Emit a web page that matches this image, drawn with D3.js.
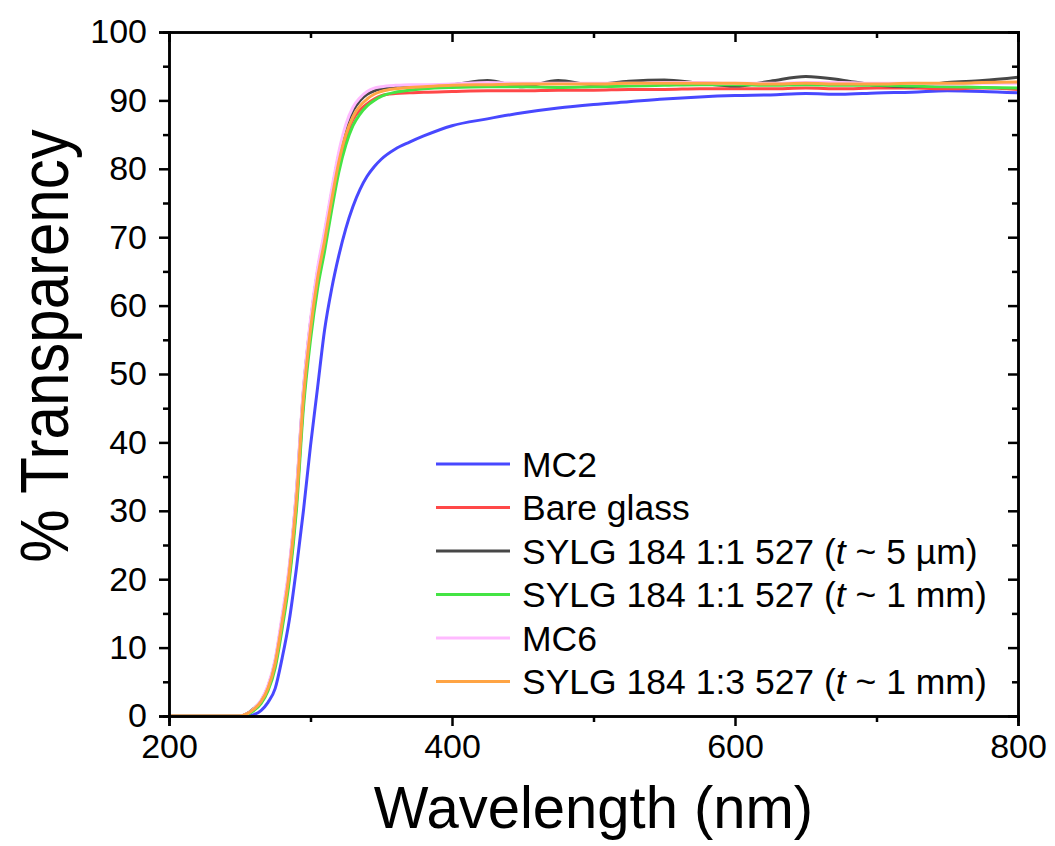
<!DOCTYPE html>
<html>
<head>
<meta charset="utf-8">
<script src="https://cdn.jsdelivr.net/npm/d3@7"></script>
<style>
  body { margin: 0; background: #fff; }
  text { font-family: "Liberation Sans", Arial, sans-serif; fill: #000; }
</style>
</head>
<body>
<script>
// wavelength grid (nm)
var wavelengths = [200, 230, 250, 255, 260, 265, 270, 275, 280, 285, 290, 295, 300, 305, 310, 315, 320, 325, 330, 335, 340, 345, 350, 360, 370, 380, 400, 425, 450, 475, 500, 525, 550, 575, 600, 625, 650, 675, 700, 725, 750, 775, 800];

var mc2 = [0, 0, 0, 0, 0.2, 0.8, 2.0, 4.0, 8.5, 14, 21.5, 30, 39.5, 48, 56.5, 62.5, 67.3, 71.3, 74.5, 77, 78.9, 80.3, 81.4, 82.9, 83.9, 84.8, 86.3, 87.3, 88.2, 88.9, 89.4, 89.8, 90.2, 90.5, 90.7, 90.8, 91.0, 90.9, 91.1, 91.2, 91.4, 91.3, 91.1];
var bareGlass = [0, 0, 0, 0.3, 1.0, 2.0, 4.0, 7.5, 13.5, 20.5, 31, 46, 56, 63.5, 69, 75, 80.5, 84.5, 87.2, 88.6, 89.5, 90.2, 90.7, 91.0, 91.1, 91.2, 91.3, 91.4, 91.4, 91.5, 91.5, 91.6, 91.6, 91.7, 91.7, 91.7, 91.8, 91.7, 91.8, 91.8, 91.7, 91.8, 91.6];
var sylg5um = [0, 0, 0, 0.3, 1.1, 2.2, 4.3, 8.0, 14.3, 21.5, 32.5, 47.5, 57.5, 65, 70.5, 76.5, 82, 86, 88.5, 90.0, 90.9, 91.4, 91.7, 91.9, 92.0, 92.1, 92.3, 92.9, 92.0, 92.9, 92.3, 92.8, 93.0, 92.5, 92.1, 92.8, 93.5, 93.0, 92.2, 92.0, 92.6, 92.9, 93.4];
var sylg11mm = [0, 0, 0, 0.2, 0.8, 1.8, 3.7, 7.0, 12.8, 19.8, 30, 45, 55, 62.5, 68, 74, 79.5, 83.5, 86.3, 88.0, 89.2, 90.0, 90.6, 91.2, 91.5, 91.7, 91.9, 92.0, 92.0, 91.9, 92.0, 92.1, 92.2, 92.3, 92.3, 92.2, 92.3, 92.2, 92.2, 92.1, 92.0, 91.9, 91.8];
var mc6 = [0, 0, 0, 0.3, 1.1, 2.3, 4.5, 8.3, 14.8, 22, 33, 48, 58, 65.5, 71, 77, 82.5, 86.5, 89, 90.4, 91.3, 91.8, 92.0, 92.2, 92.3, 92.3, 92.4, 92.6, 92.5, 92.5, 92.5, 92.5, 92.6, 92.6, 92.5, 92.5, 92.6, 92.6, 92.5, 92.5, 92.4, 92.5, 92.5];
var sylg13mm = [0, 0, 0, 0.3, 1.0, 2.1, 4.1, 7.7, 13.8, 21, 31.5, 46.5, 56.5, 64, 69.5, 75.5, 81, 85, 87.6, 89.2, 90.2, 90.9, 91.3, 91.7, 91.9, 92.0, 92.2, 92.3, 92.4, 92.4, 92.4, 92.5, 92.5, 92.5, 92.5, 92.4, 92.5, 92.4, 92.4, 92.5, 92.5, 92.6, 92.7];

var seriesNames = ["MC2", "Bare glass", "SYLG 184 1:1 527 (t ~ 5 µm)", "SYLG 184 1:1 527 (t ~ 1 mm)", "MC6", "SYLG 184 1:3 527 (t ~ 1 mm)"];
var seriesColors = ["#4848ff", "#ff4848", "#474747", "#44e444", "#ffbaff", "#ffa444"];
var seriesValues = [mc2, bareGlass, sylg5um, sylg11mm, mc6, sylg13mm];

var xTicks = [200, 400, 600, 800];
var xMinor = [300, 500, 700];
var yTicks = [0, 10, 20, 30, 40, 50, 60, 70, 80, 90, 100];
var yMinor = [5, 15, 25, 35, 45, 55, 65, 75, 85, 95];

var width = 1055, height = 846;
var margin = { left: 169, right: 37, top: 32, bottom: 130 };

var svg = d3.select("body").append("svg")
  .attr("width", width)
  .attr("height", height);

var x = d3.scaleLinear().domain([200, 800]).range([margin.left, width - margin.right]);
var y = d3.scaleLinear().domain([0, 100]).range([height - margin.bottom, margin.top]);

var line = d3.line()
  .x(function(d) { return x(d[0]); })
  .y(function(d) { return y(d[1]); })
  .curve(d3.curveMonotoneX);

var plot = svg.append("g");
for (var i = 0; i < seriesValues.length; i++) {
  var pts = wavelengths.map(function(w, j) { return [w, seriesValues[i][j]]; });
  plot.append("path")
    .datum(pts)
    .attr("d", line)
    .attr("fill", "none")
    .attr("stroke", seriesColors[i])
    .attr("stroke-width", 3)
    .attr("stroke-linejoin", "round");
}

// axes
function styleAxis(g) {
  g.selectAll("path").attr("stroke", "#000").attr("stroke-width", 2.5);
  g.selectAll("line").attr("stroke", "#000").attr("stroke-width", 2.5);
  g.selectAll("text").attr("font-size", 34).attr("fill", "#000")
    .attr("font-family", "'Liberation Sans', Arial, sans-serif");
}

function addAxis(axis, tx, ty, values, size, fmt, pad) {
  var g = svg.append("g").attr("transform", "translate(" + tx + "," + ty + ")")
    .call(axis.tickValues(values).tickSize(size).tickPadding(pad || 3).tickFormat(fmt));
  styleAxis(g);
  return g;
}

addAxis(d3.axisBottom(x), 0, y(0), xTicks, 10, d3.format("d"), 8);
addAxis(d3.axisBottom(x), 0, y(0), xMinor, 6, "");
addAxis(d3.axisLeft(y), x(200), 0, yTicks, 10, d3.format("d"), 12);
addAxis(d3.axisLeft(y), x(200), 0, yMinor, 6, "");
addAxis(d3.axisBottom(x), 0, y(100), xTicks, 10, "");
addAxis(d3.axisBottom(x), 0, y(100), xMinor, 6, "");
addAxis(d3.axisLeft(y), x(800), 0, yTicks, 10, "");
addAxis(d3.axisLeft(y), x(800), 0, yMinor, 6, "");

// axis titles
svg.append("text")
  .attr("transform", "translate(" + ((x(200) + x(800)) / 2) + ",828) scale(1,1.03)")
  .attr("text-anchor", "middle")
  .attr("font-size", 58)
  .text("Wavelength (nm)");

svg.append("text")
  .attr("transform", "translate(68," + 346 + ") rotate(-90) scale(1,1.15)")
  .attr("text-anchor", "middle")
  .attr("font-size", 60)
  .text("% Transparency");

// legend
var legend = svg.append("g").attr("transform", "translate(436,464)");
seriesNames.forEach(function(name, k) {
  var row = legend.append("g").attr("transform", "translate(0," + (k * 43.5) + ")");
  row.append("line")
    .attr("x1", 0).attr("x2", 74)
    .attr("y1", 0).attr("y2", 0)
    .attr("stroke", seriesColors[k])
    .attr("stroke-width", 3);
  var t = row.append("text")
    .attr("x", 86)
    .attr("y", 12.5)
    .attr("font-size", 35.5);
  var m = name.match(/^(.*\()t( .*)$/);
  if (m) {
    t.append("tspan").text(m[1]);
    t.append("tspan").attr("font-style", "italic").text("t");
    t.append("tspan").text(m[2]);
  } else {
    t.text(name);
  }
});
</script>
</body>
</html>
